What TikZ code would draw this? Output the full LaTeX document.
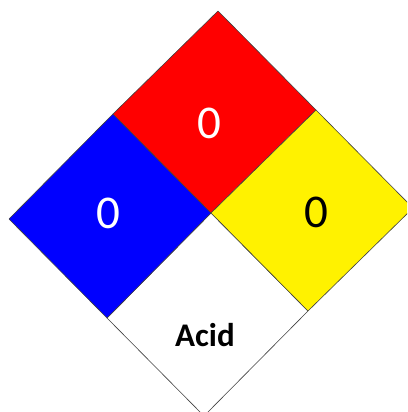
\documentclass[tikz,border=0pt]{standalone}
\usepackage{fontspec}
\setmainfont{Carlito}
\usepackage{tikz}
\usetikzlibrary{calc}
\tikzstyle{quad} = [draw=black!75, line width=0.6pt, line join=round]
\tikzstyle{rating} = [font=\fontsize{47}{47}\selectfont, inner sep=0pt]
\tikzstyle{special} = [font=\fontsize{33}{33}\selectfont\bfseries, inner sep=0pt]

\begin{document}
\begin{tikzpicture}[x=1pt, y=-1pt]

\useasboundingbox (0,0) rectangle (407,412);
\clip (0,0) rectangle (407,412);

% corners and edge midpoints
\coordinate (c) at (211,213);
\coordinate (lt) at (113,114);
\coordinate (tr) at (316,110);
\coordinate (lb) at (107,318);
\coordinate (rb) at (308,311);
\coordinate (t) at ($(lt)+(tr)-(c)$);
\coordinate (l) at ($(lt)+(lb)-(c)$);
\coordinate (r) at ($(tr)+(rb)-(c)$);
\coordinate (b) at ($(lb)+(rb)-(c)$);

\filldraw[quad, fill=white] (c) -- (lb) -- (b) -- (rb) -- cycle;
\filldraw[quad, fill=blue] (c) -- (lt) -- (l) -- (lb) -- cycle;
\filldraw[quad, fill=red] (c) -- (lt) -- (t) -- (tr) -- cycle;
\filldraw[quad, fill=yellow] (c) -- (tr) -- (r) -- (rb) -- cycle;

\node[rating, text=white] (health) at (108,213) {0};
\node[rating, text=white] (fire) at (209,123) {0};
\node[rating, text=black] (reactivity) at (316,212) {0};
\node[special] (acid) at (205,335) {Acid};

\end{tikzpicture}
\end{document}
